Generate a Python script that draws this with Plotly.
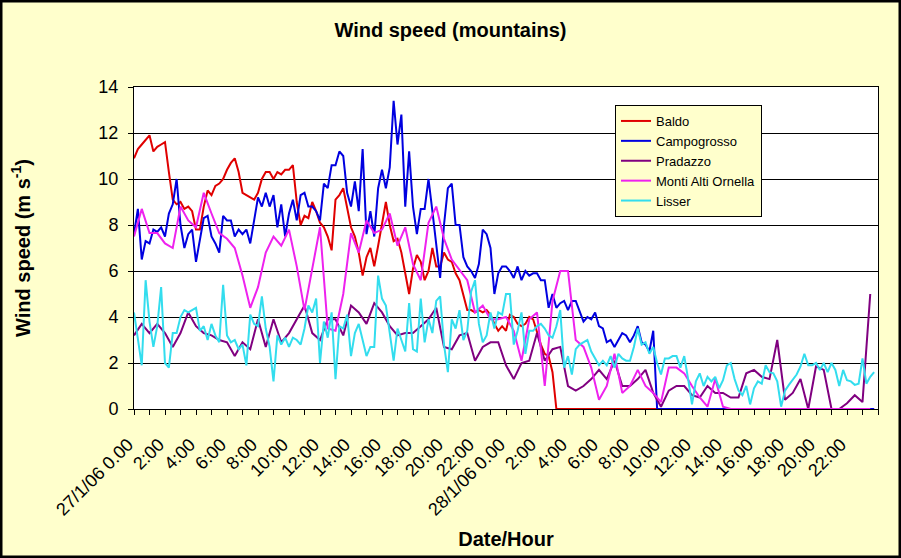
import plotly.graph_objects as go

# Time axis: hours since 27/1/06 00:00
hours_30min = [i * 0.5 for i in range(96)]    # half-hourly readings
hours_15min = [i * 0.25 for i in range(192)]  # quarter-hourly readings

baldo = [  # quarter-hourly
    10.9, 11.3, 11.5, 11.7, 11.9, 11.2, 11.4, 11.5, 11.6, 10.3, 9.1, 8.9, 9.0, 8.7, 8.8, 8.6,
    7.8, 7.8, 8.8, 9.5, 9.3, 9.7, 9.8, 10.0, 10.4, 10.7, 10.9, 10.3, 9.4, 9.3, 9.2, 9.1,
    9.4, 10.0, 10.3, 10.3, 10.0, 10.3, 10.2, 10.4, 10.4, 10.6, 9.0, 8.0, 8.4, 8.3, 9.0, 8.6,
    8.1, 7.9, 7.5, 6.9, 9.1, 9.3, 9.6, 8.7, 7.9, 7.5, 6.8, 5.8, 6.6, 7.0, 6.2, 7.1,
    8.0, 9.0, 8.0, 7.3, 7.4, 6.8, 5.9, 5.0, 6.1, 6.7, 6.4, 5.6, 6.0, 7.0, 6.2, 6.2,
    6.8, 6.5, 6.4, 5.9, 5.6, 4.9, 4.3, 4.3, 4.2, 4.3, 4.2, 4.3, 4.1, 3.7, 3.4, 3.6,
    3.4, 4.1, 4.0, 3.7, 3.6, 3.7, 4.0, 3.9, 3.3, 2.8, 2.4, 2.3, 1.6, 0, 0, 0,
    0, 0, 0, 0, 0, 0, 0, 0, 0, 0, 0, 0, 0, 0, 0, 0,
    0, 0, 0, 0, 0, 0, 0, 0, 0, 0, 0, 0, 0, 0, 0, 0,
    0, 0, 0, 0, 0, 0, 0, 0, 0, 0, 0, 0, 0, 0, 0, 0,
    0, 0, 0, 0, 0, 0, 0, 0, 0, 0, 0, 0, 0, 0, 0, 0,
    0, 0, 0, 0, 0, 0, 0, 0, 0, 0, 0, 0, 0, 0, 0, 0,
]
campogrosso = [  # quarter-hourly
    7.6, 8.7, 6.5, 7.3, 7.2, 7.8, 7.7, 7.9, 7.5, 8.5, 8.9, 10.0, 8.0, 7.0, 7.6, 7.8,
    6.4, 7.4, 8.3, 8.4, 7.5, 7.2, 6.8, 8.4, 8.2, 8.2, 7.5, 7.8, 7.6, 7.8, 7.2, 8.2,
    9.2, 8.8, 9.4, 8.8, 9.3, 7.9, 8.9, 7.5, 8.5, 9.1, 8.2, 9.3, 9.4, 8.8, 8.8, 8.6,
    8.2, 9.8, 9.6, 10.6, 10.6, 11.2, 11.0, 9.4, 8.8, 9.9, 8.6, 11.3, 7.6, 8.6, 7.5, 9.6,
    10.4, 9.6, 10.5, 13.4, 11.5, 12.8, 8.8, 11.2, 8.8, 7.6, 8.7, 8.7, 10.0, 8.6, 7.0, 5.7,
    8.0, 9.6, 9.8, 8.0, 8.0, 6.6, 6.2, 6.0, 5.7, 6.3, 7.8, 7.6, 7.0, 5.0, 5.9, 6.2,
    6.2, 6.0, 5.7, 6.2, 5.6, 6.0, 5.8, 5.9, 5.9, 5.6, 5.6, 4.4, 5.0, 4.4, 4.6, 4.7,
    4.3, 4.7, 4.7, 4.2, 3.8, 4.0, 3.9, 4.2, 3.6, 3.5, 2.9, 3.0, 2.7, 3.0, 3.3, 3.2,
    2.9, 3.2, 3.6, 2.9, 2.8, 2.5, 3.4, 0, 0, 0, 0, 0, 0, 0, 0, 0,
    0, 0, 0, 0, 0, 0, 0, 0, 0, 0, 0, 0, 0, 0, 0, 0,
    0, 0, 0, 0, 0, 0, 0, 0, 0, 0, 0, 0, 0, 0, 0, 0,
    0, 0, 0, 0, 0, 0, 0, 0, 0, 0, 0, 0, 0, 0, 0, 0,
]
pradazzo = [  # half-hourly
    3.2, 3.7, 3.3, 3.7, 3.3, 2.7, 3.3, 4.2, 3.6, 3.3, 3.2, 3.0, 2.9, 2.3, 2.9, 2.6,
    3.9, 2.7, 3.9, 2.9, 3.3, 3.9, 4.5, 3.3, 3.0, 3.9, 3.9, 3.2, 4.5, 4.2, 3.7, 4.6,
    4.2, 3.6, 3.2, 3.3, 3.3, 3.6, 3.9, 4.4, 2.7, 2.6, 3.2, 3.3, 2.1, 2.7, 2.9, 2.9,
    1.9, 1.3, 2.0, 2.1, 3.3, 2.1, 2.6, 2.7, 1.0, 0.8, 1.0, 1.3, 1.7, 1.3, 2.1, 1.0,
    1.0, 1.3, 1.7, 0.7, 0.1, 0.8, 1.0, 1.0, 0.6, 0.5, 1.0, 0.7, 0.7, 0.5, 0.5, 1.55,
    1.7, 1.4, 1.3, 3.0, 0.4, 0.7, 1.3, 0, 1.85, 1.7, 0, 0, 0.25, 0.6, 0.3, 5.0,
]
monti_alti_ornella = [  # half-hourly
    7.5, 8.7, 7.65, 7.65, 7.2, 7.0, 8.8, 8.2, 7.9, 9.4, 8.5, 7.65, 7.4, 7.0, 5.8, 4.4,
    5.3, 6.8, 7.5, 7.1, 7.8, 6.2, 4.3, 6.05, 7.9, 3.5, 3.4, 5.0, 7.65, 6.8, 8.2, 7.65,
    7.8, 8.5, 7.1, 7.9, 6.3, 5.6, 8.1, 8.8, 7.4, 6.5, 6.05, 5.6, 4.2, 4.5, 3.9, 3.9,
    4.0, 3.4, 2.1, 3.9, 4.2, 1.0, 4.7, 6.0, 6.0, 3.0, 2.7, 1.8, 0.4, 1.0, 2.4, 0.7,
    1.0, 1.7, 1.0, 0.7, 0.3, 1.8, 1.8, 1.55, 1.0, 0.5, 0.1, 1.3, 0.1, 0, 0, 0,
    0, 0, 0, 0, 0, 0, 0, 0, 0, 0, 0, 0, 0, 0, 0, 0,
]
lisser = [  # quarter-hourly
    4.2, 3.0, 1.9, 5.6, 3.8, 2.7, 3.6, 5.3, 2.0, 1.8, 3.3, 3.3, 4.0, 4.3, 4.2, 4.3,
    4.4, 3.4, 3.6, 3.0, 3.7, 3.2, 2.9, 5.4, 3.2, 2.9, 3.0, 2.6, 2.8, 1.9, 4.1, 3.7,
    3.6, 4.9, 3.5, 2.7, 1.2, 3.2, 2.8, 3.1, 2.7, 3.1, 3.0, 2.8, 3.5, 4.5, 4.2, 4.8,
    2.0, 3.8, 3.1, 4.2, 1.3, 3.6, 3.5, 4.1, 2.3, 3.3, 3.7, 3.0, 2.3, 2.7, 2.7, 5.8,
    4.8, 4.5, 3.4, 2.1, 3.5, 3.0, 2.5, 4.6, 2.6, 2.5, 4.8, 2.9, 3.9, 3.3, 4.7, 4.9,
    2.8, 1.6, 3.9, 3.5, 4.3, 3.0, 3.4, 5.1, 5.6, 3.7, 2.9, 3.2, 4.2, 3.5, 4.2, 4.1,
    5.0, 5.0, 2.8, 3.4, 4.2, 2.4, 3.4, 3.4, 3.6, 3.7, 3.5, 3.2, 3.1, 3.6, 4.3, 1.8,
    2.3, 1.5, 2.6, 2.8, 2.9, 3.0, 2.5, 2.2, 1.9, 2.1, 1.9, 2.3, 1.8, 2.4, 2.2, 2.1,
    2.1, 2.7, 3.5, 2.8, 2.9, 2.4, 2.7, 2.0, 1.5, 2.2, 2.2, 2.3, 2.3, 1.8, 2.3, 1.3,
    0.2, 1.2, 1.55, 1.0, 1.4, 1.2, 1.4, 0.9, 1.25, 1.9, 2.0, 1.3, 0.8, 0.6, 1.0, 0.2,
    0.9, 1.2, 1.1, 1.9, 1.6, 1.55, 1.2, 0.1, 0.8, 1.05, 1.3, 1.5, 1.85, 2.4, 1.9, 1.9,
    2.0, 1.7, 2.0, 1.6, 2.0, 1.7, 1.0, 1.7, 1.25, 1.2, 1.05, 1.1, 2.2, 1.1, 1.4, 1.6,
]

series_names = ["Baldo", "Campogrosso", "Pradazzo", "Monti Alti Ornella", "Lisser"]
series_values = [baldo, campogrosso, pradazzo, monti_alti_ornella, lisser]
series_times = [hours_15min, hours_15min, hours_30min, hours_30min, hours_15min]
series_colors = ["#E00000", "#0000E0", "#800080", "#EE22EE", "#33DDEE"]

tick_hours = list(range(0, 48, 2))
tick_labels = ["27/1/06 0.00"] + [f"{h}:00" for h in range(2, 24, 2)] + \
              ["28/1/06 0.00"] + [f"{h}:00" for h in range(2, 24, 2)]

FONT = "Liberation Sans, Arial, sans-serif"

fig = go.Figure()
for name, t, vals, col in zip(series_names, series_times, series_values, series_colors):
    fig.add_trace(go.Scatter(x=t, y=vals, name=name, mode="lines",
                             line=dict(color=col, width=2)))

W, H = 901, 558
ml, mr, mt, mb = 134, 23, 87, 149
pw, ph = W - ml - mr, H - mt - mb

fig.update_layout(
    width=W, height=H,
    margin=dict(l=ml, r=mr, t=mt, b=mb, autoexpand=False),
    paper_bgcolor="#FFFFCC", plot_bgcolor="white",
    font=dict(family=FONT, color="black"),
    title=dict(text="Wind speed (mountains)", x=0.5, xref="container", xanchor="center",
               y=1 - 30 / H, yref="container", yanchor="middle",
               font=dict(size=20, weight="bold", family=FONT)),
    showlegend=True,
    legend=dict(x=(615 - ml) / pw, y=(H - mb - 105) / ph, xanchor="left", yanchor="top",
                bgcolor="#FFFFCC", bordercolor="black", borderwidth=1,
                font=dict(size=13, family=FONT), tracegroupgap=0),
    xaxis=dict(range=[0, 48], tickmode="array", tickvals=tick_hours, ticktext=tick_labels,
               tickangle=-45, ticks="outside", ticklen=5, tickcolor="black",
               ticklabelstandoff=12, ticklabelshift=-6,
               minor=dict(tickmode="linear", tick0=0, dtick=1, ticks="outside",
                          ticklen=5, tickcolor="black", showgrid=False),
               showgrid=False, zeroline=False, showline=True, linecolor="black",
               linewidth=1, mirror=True, tickfont=dict(size=18),
               title=dict(text="Date/Hour", font=dict(size=20, weight="bold"), standoff=13),
               automargin=False),
    yaxis=dict(range=[0, 14], tickmode="array", tickvals=list(range(0, 15, 2)),
               ticks="outside", ticklen=5, tickcolor="black",
               showgrid=True, gridcolor="black", gridwidth=1, zeroline=False,
               showline=True, linecolor="black", linewidth=1, mirror=True,
               tickfont=dict(size=18), ticklabelstandoff=6,
               title=dict(text="Wind speed (m s<sup>-1</sup>)",
                          font=dict(size=20, weight="bold"), standoff=62),
               automargin=False),
    shapes=[dict(type="rect", xref="paper", yref="paper",
                 x0=-ml / pw, x1=(W - ml) / pw, y0=-mb / ph, y1=(H - mb) / ph,
                 line=dict(color="black", width=5), fillcolor="rgba(0,0,0,0)", layer="above")],
)

fig.write_html("out.html")
